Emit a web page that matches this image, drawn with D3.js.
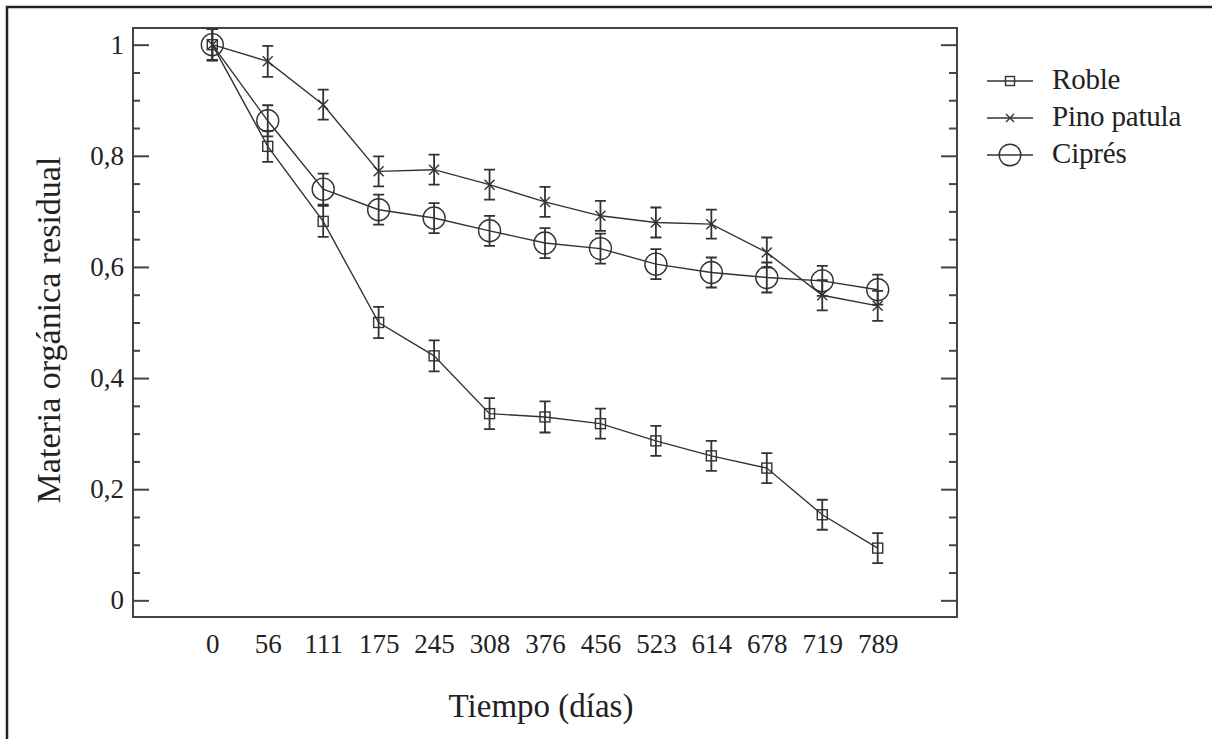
<!DOCTYPE html>
<html>
<head>
<meta charset="utf-8">
<script src="https://cdn.jsdelivr.net/npm/d3@7"></script>
<style>
  body { margin: 0; background: #fff; }
  text { font-family: "Liberation Serif", "Times New Roman", serif; fill: #222; }
</style>
</head>
<body>
<div id="chart"></div>
<script>
// Data
var days = ["0", "56", "111", "175", "245", "308", "376", "456", "523", "614", "678", "719", "789"];

var roble = [1.0, 0.817, 0.682, 0.500, 0.440, 0.336, 0.330, 0.318, 0.287, 0.260, 0.238, 0.154, 0.094];
var robleErr = [0.028, 0.028, 0.028, 0.028, 0.028, 0.028, 0.028, 0.027, 0.027, 0.027, 0.027, 0.027, 0.027];

var pino = [1.0, 0.970, 0.892, 0.772, 0.775, 0.748, 0.717, 0.692, 0.680, 0.677, 0.626, 0.549, 0.530];
var pinoErr = [0.028, 0.028, 0.027, 0.027, 0.027, 0.027, 0.027, 0.027, 0.027, 0.026, 0.027, 0.027, 0.027];

var cipres = [1.0, 0.863, 0.740, 0.703, 0.688, 0.665, 0.643, 0.633, 0.605, 0.590, 0.581, 0.575, 0.559];
var cipresErr = [0.028, 0.028, 0.028, 0.027, 0.027, 0.027, 0.027, 0.027, 0.027, 0.027, 0.027, 0.027, 0.027];

var yMajorTicks = [0, 0.2, 0.4, 0.6, 0.8, 1];
var yTickLabels = ["0", "0,2", "0,4", "0,6", "0,8", "1"];
var yMinorTicks = [0.05, 0.1, 0.15, 0.25, 0.3, 0.35, 0.45, 0.5, 0.55, 0.65, 0.7, 0.75, 0.85, 0.9, 0.95];

var series = [
  { name: "Roble", values: roble, err: robleErr, shape: "square" },
  { name: "Pino patula", values: pino, err: pinoErr, shape: "cross" },
  { name: "Ciprés", values: cipres, err: cipresErr, shape: "circle" }
];

// svg wrapper
var svgWidth = 1212;
var svgHeight = 739;

var margin = { top: 28, left: 133 };
var width = 824;
var height = 589;

var ink = "#333";

var svg = d3.select("#chart")
  .append("svg")
  .attr("width", svgWidth)
  .attr("height", svgHeight);

// outer frame of the figure (top and left edges only)
svg.append("path")
  .attr("d", `M7,${svgHeight} V7 H${svgWidth}`)
  .attr("fill", "none")
  .attr("stroke", "#222")
  .attr("stroke-width", 2.5);

var chartGroup = svg.append("g")
  .attr("transform", `translate(${margin.left}, ${margin.top})`);

// scales
var xScale = d3.scalePoint()
  .domain(days)
  .range([0, width])
  .padding(1.43);

var yScale = d3.scaleLinear()
  .domain([-0.03, 1.03])
  .range([height, 0]);

// y axes, ticks point inwards on both sides
chartGroup.append("g")
  .attr("class", "y-major")
  .call(d3.axisLeft(yScale)
    .tickValues(yMajorTicks)
    .tickSize(-16)
    .tickPadding(9)
    .tickFormat((d, i) => yTickLabels[i]));

chartGroup.append("g")
  .call(d3.axisLeft(yScale)
    .tickValues(yMinorTicks)
    .tickSize(-7)
    .tickFormat(""));

chartGroup.append("g")
  .attr("transform", `translate(${width}, 0)`)
  .call(d3.axisRight(yScale)
    .tickValues(yMajorTicks)
    .tickSize(-16)
    .tickFormat(""));

chartGroup.append("g")
  .attr("transform", `translate(${width}, 0)`)
  .call(d3.axisRight(yScale)
    .tickValues(yMinorTicks)
    .tickSize(-8)
    .tickFormat(""));

// x axis labels only
chartGroup.append("g")
  .attr("class", "x-axis")
  .attr("transform", `translate(0, ${height})`)
  .call(d3.axisBottom(xScale).tickSize(0).tickPadding(17));

chartGroup.selectAll(".domain").remove();
chartGroup.selectAll(".tick line")
  .attr("stroke", "#444")
  .attr("stroke-width", 2);
chartGroup.selectAll(".tick text")
  .attr("font-size", 27)
  .attr("font-family", "Liberation Serif, serif")
  .attr("fill", "#222");

// plot frame
chartGroup.append("rect")
  .attr("width", width)
  .attr("height", height)
  .attr("fill", "none")
  .attr("stroke", "#444")
  .attr("stroke-width", 2);

// axis titles
svg.append("text")
  .attr("x", margin.left + width / 2 - 4)
  .attr("y", 717)
  .attr("text-anchor", "middle")
  .attr("font-size", 33)
  .text("Tiempo (días)");

svg.append("text")
  .attr("transform", "rotate(-90)")
  .attr("x", -330)
  .attr("y", 60)
  .attr("text-anchor", "middle")
  .attr("font-size", 34)
  .text("Materia orgánica residual");

// marker drawing helper
function drawMarker(g, shape, size) {
  if (shape === "square") {
    g.append("rect")
      .attr("x", -size.sq / 2)
      .attr("y", -size.sq / 2)
      .attr("width", size.sq)
      .attr("height", size.sq)
      .attr("fill", "none")
      .attr("stroke", ink)
      .attr("stroke-width", 1.4);
  }
  else if (shape === "cross") {
    var a = size.x;
    g.append("path")
      .attr("d", `M${-a},${-a}L${a},${a}M${-a},${a}L${a},${-a}`)
      .attr("stroke", ink)
      .attr("stroke-width", 1.4);
  }
  else {
    g.append("circle")
      .attr("r", size.r)
      .attr("fill", "none")
      .attr("stroke", ink)
      .attr("stroke-width", 1.4);
  }
}

var line = d3.line()
  .x((d, i) => xScale(days[i]))
  .y(d => yScale(d));

series.forEach(function(s) {
  var g = chartGroup.append("g").attr("class", "series");

  g.append("path")
    .datum(s.values)
    .attr("d", line)
    .attr("fill", "none")
    .attr("stroke", ink)
    .attr("stroke-width", 1.4);

  var pts = g.selectAll(".pt")
    .data(s.values)
    .enter()
    .append("g")
    .attr("class", "pt")
    .attr("transform", (d, i) => `translate(${xScale(days[i])}, ${yScale(d)})`);

  // error bars
  pts.append("path")
    .attr("d", function(d, i) {
      var top = yScale(d + s.err[i]) - yScale(d);
      var bot = yScale(d - s.err[i]) - yScale(d);
      return `M0,${top}V${bot}M-5.5,${top}H5.5M-5.5,${bot}H5.5`;
    })
    .attr("fill", "none")
    .attr("stroke", ink)
    .attr("stroke-width", 1.8);

  pts.each(function() {
    drawMarker(d3.select(this), s.shape, { sq: 10, x: 5, r: 11 });
  });
});

// legend
var legend = svg.append("g")
  .attr("transform", "translate(987, 81)");

var rows = legend.selectAll(".row")
  .data(series)
  .enter()
  .append("g")
  .attr("class", "row")
  .attr("transform", (d, i) => `translate(0, ${i * 37})`);

rows.append("line")
  .attr("x1", 0)
  .attr("x2", 46)
  .attr("stroke", ink)
  .attr("stroke-width", 1.4);

rows.each(function(d) {
  var m = d3.select(this).append("g").attr("transform", "translate(23, 0)");
  drawMarker(m, d.shape, { sq: 9, x: 4, r: 10.8 });
});

rows.append("text")
  .attr("x", 65)
  .attr("y", 8)
  .attr("font-size", 29)
  .attr("letter-spacing", -0.2)
  .text(d => d.name);
</script>
</body>
</html>
